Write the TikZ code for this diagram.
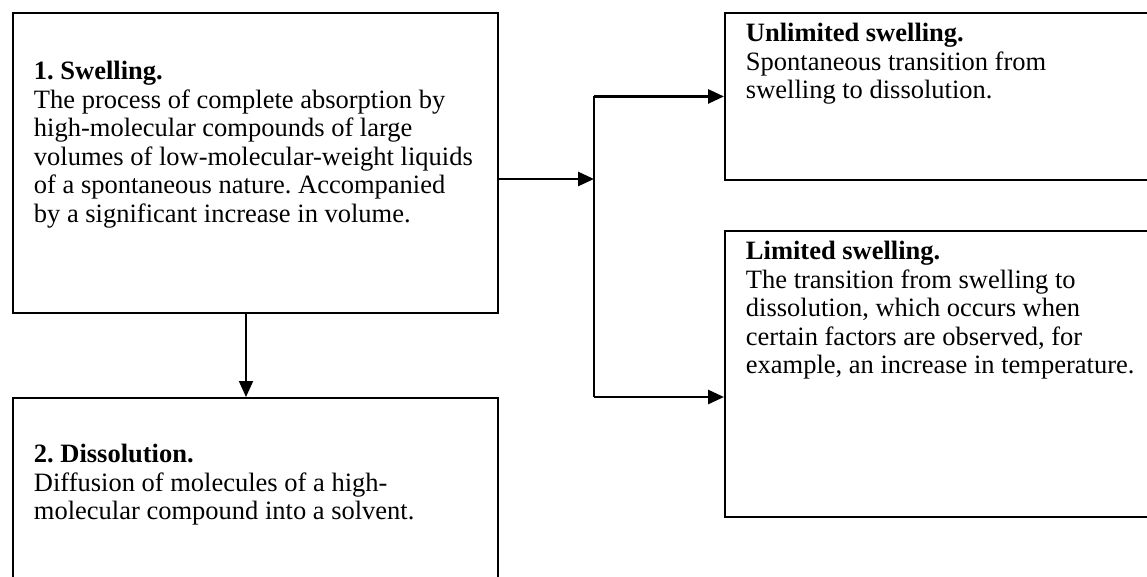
\documentclass[tikz,border=0pt]{standalone}
\usepackage{fontspec}
\setmainfont{Liberation Serif}
\usetikzlibrary{arrows.meta}

\newcommand{\boxtext}[4]{\parbox[c][#2][t]{#1}{\frenchspacing\leftskip=21pt\fontsize{26.5pt}{28.5pt}\selectfont\rule{0pt}{#3}#4}}

\begin{document}
\begin{tikzpicture}[x=1pt, y=-1pt, box/.style = {draw, line width=1.9pt, inner sep=0pt, anchor=north west}, conn/.style = {line width=2.8pt, -{Triangle[length=16pt, width=14pt]}}, bar/.style = {line width=2pt}]
    \useasboundingbox (0,0) rectangle (1147,576);

    \node[box] (swell) at (12,12) {\boxtext{485pt}{300pt}{67pt}{\textbf{1. Swelling.}\\
        The process of complete absorption by\\
        high-molecular compounds of large\\
        volumes of low-molecular-weight liquids\\
        of a spontaneous nature. Accompanied\\
        by a significant increase in volume.}};
    \node[box] (diss) at (12,397) {\boxtext{485pt}{190pt}{65pt}{\textbf{2. Dissolution.}\\
        Diffusion of molecules of a high-\\
        molecular compound into a solvent.}};
    \node[box] (unlim) at (724,12) {\boxtext{426pt}{167pt}{29pt}{\textbf{Unlimited swelling.}\\
        Spontaneous transition from\\
        swelling to dissolution.}};
    \node[box] (lim) at (724,230) {\boxtext{426pt}{286pt}{29pt}{\textbf{Limited swelling.}\\
        The transition from swelling to\\
        dissolution, which occurs when\\
        certain factors are observed, for\\
        example, an increase in temperature.}};

    \coordinate (fork) at (594,179);
    \coordinate (low) at (594,397);
    \coordinate (drop) at (246,312);

    \draw[conn] (swell.east |- fork) -- (fork);
    \draw[bar] (fork |- unlim.west) -- (low);
    \draw[conn] (fork |- unlim.west) -- (unlim.west);
    \draw[conn] (low) -- (low -| lim.west);
    \draw[conn, line width=2pt] (drop) -- (drop |- diss.north);

\end{tikzpicture}
\end{document}
